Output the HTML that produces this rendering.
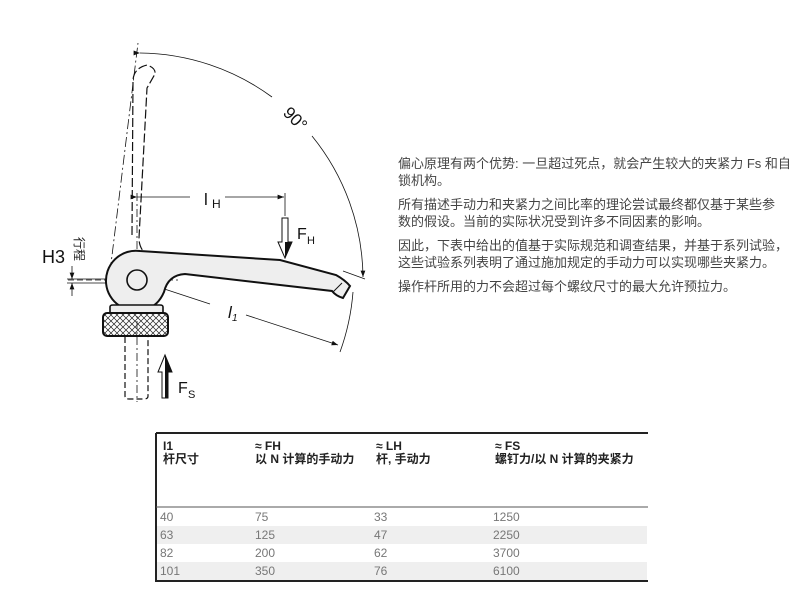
<!DOCTYPE html>
<html><head><meta charset="utf-8"><style>
html,body{margin:0;padding:0;background:#fff;width:800px;height:600px;overflow:hidden}
.t{position:absolute;left:398px;font:13px "Liberation Sans","Noto Sans CJK SC",sans-serif;color:#444;white-space:nowrap;line-height:17px}
.tb{position:absolute;font-family:"Liberation Sans","Noto Sans CJK SC",sans-serif;font-size:12px;white-space:nowrap}
.h{font-weight:bold;color:#222;line-height:13px}
.d{color:#777;font-size:12px}
</style></head><body>
<svg width="800" height="600" style="position:absolute;left:0;top:0" xmlns="http://www.w3.org/2000/svg">
<defs>
<pattern id="kn" width="6" height="6" patternUnits="userSpaceOnUse"><path d="M0 0L6 6M6 0L0 6" stroke="#222" stroke-width="0.7"/></pattern>
<marker id="ar" markerWidth="8" markerHeight="6" refX="8" refY="3" orient="auto"><path d="M0 0L8 3L0 6z" fill="#111"/></marker>
</defs>
<g fill="none" stroke="#111">
<path d="M132 235 L133 80 Q134 68 147 65 Q156 68 155 74 L147 88 L139 238 Q139 248 146 254" stroke-dasharray="9,3" stroke-width="1.2"/>
<path d="M110 272 L138 43" stroke-dasharray="10,3,2,3" stroke-width="0.8"/>
<path d="M137 193 L137 402" stroke-dasharray="8,3,2,3" stroke-width="0.8"/>
<path d="M68 280 L178 280" stroke-dasharray="6,3" stroke-width="0.8"/>
<path d="M140 53 A227 227 0 0 1 272 97" stroke-width="0.8" marker-start="url(#ar)"/>
<path d="M312 136 A227 227 0 0 1 363 277" stroke-width="0.8" marker-end="url(#ar)"/>
<path d="M343 271 L365 279" stroke-width="0.8"/>
<path d="M353 292 A227 227 0 0 1 340 352" stroke-width="0.8"/>
<path d="M137 280 L210 304" stroke-width="0.8"/>
<path d="M246 315 L338 345" stroke-width="0.8" marker-end="url(#ar)"/>
<path d="M137 197 L190 197" stroke-width="0.8" marker-start="url(#ar)"/>
<path d="M225 197 L284 197" stroke-width="0.8" marker-end="url(#ar)"/>
<path d="M285 193 L285 216" stroke-width="0.8"/>
<path d="M67 279 L108 279 M67 283 L108 283" stroke-width="0.8"/>
<path d="M72 266 L72 279" stroke-width="0.8" marker-end="url(#ar)"/>
<path d="M72 296 L72 283" stroke-width="0.8" marker-end="url(#ar)"/>
<path d="M140 251 L280 260 L336 275 Q345 280 350 286 L343 298 Q336 296 332 291 L185 274 Q168 275 164 292 Q158 306 146 309 A30 30 0 1 1 140 251 Z" fill="#eee" stroke-width="2"/>
<path d="M333 292 L342 283" stroke-width="1"/>
<circle cx="137" cy="280" r="10" fill="#eee" stroke-width="1.6"/>
<path d="M110 313 L110 307 Q110 305 113 305 L160 305 Q163 305 163 307 L163 313" fill="#eee" stroke-width="1.6"/>
<rect x="103" y="313" width="65" height="23" rx="4" fill="url(#kn)" stroke-width="2"/>
<path d="M125 337 L125 396 Q125 399 129 399 L144 399 Q148 399 148 396 L148 337" stroke-dasharray="6,3" stroke-width="1.2"/>
<path d="M282 218 L288 218 L288 242 L292 242 L285 258 L278 242 L282 242 Z" fill="#fff" stroke-width="1"/>
<path d="M285 218 L285 258 L292 242 L285 242 Z" fill="#111" stroke="none"/>
<path d="M162 398 L168 398 L168 372 L172 372 L165 355 L158 372 L162 372 Z" fill="#fff" stroke-width="1"/>
<path d="M165 398 L165 355 L172 372 L168 372 L168 398 Z" fill="#111" stroke="none"/>
</g>
<g font-family="Liberation Sans,sans-serif" fill="#111">
<text x="282" y="122" font-size="17" transform="rotate(45 292 118)">90°</text>
<text x="204" y="205" font-size="17">l</text><text x="212" y="208" font-size="12">H</text>
<text x="297" y="239" font-size="16">F</text><text x="307" y="244" font-size="11">H</text>
<text x="228" y="318" font-size="17" font-style="italic">l</text><text x="232" y="321" font-size="10" font-style="italic">1</text>
<text x="178" y="393" font-size="16">F</text><text x="188" y="398" font-size="11">S</text>
<text x="42" y="263" font-size="18">H3</text>
</g>
<text x="0" y="0" font-size="12" font-family="Noto Sans CJK SC,sans-serif" fill="#222" transform="translate(75,237) rotate(90)">行程</text>
<path d="M156 433 L648 433 M156 433 L156 581 L648 581" stroke="#222" stroke-width="2" fill="none"/>
<path d="M156 507 L648 507" stroke="#555" stroke-width="1"/>
<rect x="157" y="526" width="490" height="18" fill="#efefef"/>
<rect x="157" y="562" width="490" height="18" fill="#efefef"/>
</svg>
<div class="t" style="top:155px">偏心原理有两个优势: 一旦超过死点，就会产生较大的夹紧力 Fs 和自</div>
<div class="t" style="top:172px">锁机构。</div>
<div class="t" style="top:196px">所有描述手动力和夹紧力之间比率的理论尝试最终都仅基于某些参</div>
<div class="t" style="top:213px">数的假设。当前的实际状况受到许多不同因素的影响。</div>
<div class="t" style="top:237px">因此，下表中给出的值基于实际规范和调查结果，并基于系列试验，</div>
<div class="t" style="top:254px">这些试验系列表明了通过施加规定的手动力可以实现哪些夹紧力。</div>
<div class="t" style="top:278px">操作杆所用的力不会超过每个螺纹尺寸的最大允许预拉力。</div>
<div class="tb h" style="left:163px;top:440px">I1<br>杆尺寸</div>
<div class="tb h" style="left:255px;top:440px">≈ FH<br>以 N 计算的手动力</div>
<div class="tb h" style="left:376px;top:440px">≈ LH<br>杆, 手动力</div>
<div class="tb h" style="left:495px;top:440px">≈ FS<br>螺钉力/以 N 计算的夹紧力</div>
<div class="tb d" style="left:160px;top:510px">40</div><div class="tb d" style="left:255px;top:510px">75</div><div class="tb d" style="left:374px;top:510px">33</div><div class="tb d" style="left:493px;top:510px">1250</div>
<div class="tb d" style="left:160px;top:528px">63</div><div class="tb d" style="left:255px;top:528px">125</div><div class="tb d" style="left:374px;top:528px">47</div><div class="tb d" style="left:493px;top:528px">2250</div>
<div class="tb d" style="left:160px;top:546px">82</div><div class="tb d" style="left:255px;top:546px">200</div><div class="tb d" style="left:374px;top:546px">62</div><div class="tb d" style="left:493px;top:546px">3700</div>
<div class="tb d" style="left:160px;top:564px">101</div><div class="tb d" style="left:255px;top:564px">350</div><div class="tb d" style="left:374px;top:564px">76</div><div class="tb d" style="left:493px;top:564px">6100</div>
</body></html>
